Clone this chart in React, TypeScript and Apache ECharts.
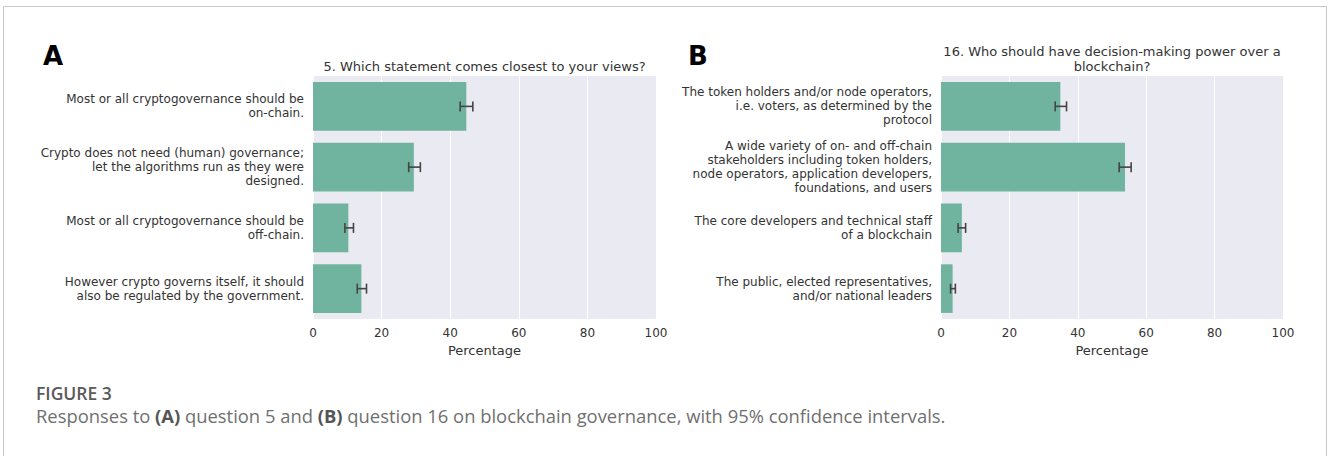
import React, { useEffect, useRef } from "react";
import * as echarts from "echarts";

const categoriesA = [
  "Most or all cryptogovernance should be\non-chain.",
  "Crypto does not need (human) governance;\nlet the algorithms run as they were\ndesigned.",
  "Most or all cryptogovernance should be\noff-chain.",
  "However crypto governs itself, it should\nalso be regulated by the government.",
];
const valuesA = [44.7, 29.4, 10.3, 14.1];
const ciLowA = [42.9, 27.9, 9.3, 12.9];
const ciHighA = [46.6, 31.3, 11.8, 15.6];

const categoriesB = [
  "The token holders and/or node operators,\ni.e. voters, as determined by the\nprotocol",
  "A wide variety of on- and off-chain\nstakeholders including token holders,\nnode operators, application developers,\nfoundations, and users",
  "The core developers and technical staff\nof a blockchain",
  "The public, elected representatives,\nand/or national leaders",
];
const valuesB = [34.9, 53.8, 6.1, 3.4];
const ciLowB = [33.4, 52.1, 5.0, 2.8];
const ciHighB = [36.7, 55.6, 7.2, 4.2];

const titleA = "5. Which statement comes closest to your views?";
const titleB = "16. Who should have decision-making power over a\nblockchain?";
const axisName = "Percentage";

const FONT = "DejaVu Sans";
const TXT = "#333333";
const BAR = "#70b49f";

export default function App() {
  const ref = useRef<HTMLDivElement>(null);
  useEffect(() => {
    if (!ref.current) return;
    const chart = echarts.init(ref.current, null, { renderer: "svg" });

    const gridsPos = [
      { left: 313, top: 76, width: 343, height: 243 },
      { left: 941, top: 76, width: 342, height: 243 },
    ];

    const xAxis = [0, 1].map((i) => ({
      type: "value",
      gridIndex: i,
      min: 0,
      max: 100,
      interval: 20,
      axisLine: { show: false },
      axisTick: { show: false },
      splitLine: { show: true, lineStyle: { color: "#ffffff", width: 1 } },
      axisLabel: { color: TXT, fontSize: 12, fontFamily: FONT, margin: 8 },
      name: axisName,
      nameLocation: "middle",
      nameGap: 23,
      nameTextStyle: { color: TXT, fontSize: 13, fontFamily: FONT, verticalAlign: "top" },
    }));

    const yAxis = [categoriesA, categoriesB].map((cats, i) => ({
      type: "category",
      gridIndex: i,
      data: cats,
      inverse: true,
      axisLine: { show: false },
      axisTick: { show: false },
      splitLine: { show: false },
      axisLabel: {
        color: TXT,
        fontSize: 12,
        fontFamily: FONT,
        margin: 9,
        lineHeight: 14,
        align: "right",
      },
    }));

    const errRender = (params: any, api: any) => {
      const c = api.value(0);
      const lo = api.value(1);
      const hi = api.value(2);
      const p1 = api.coord([lo, c]);
      const p2 = api.coord([hi, c]);
      const h = 5;
      const style = { stroke: "#444444", lineWidth: 1.6 };
      return {
        type: "group",
        children: [
          { type: "line", shape: { x1: p1[0], y1: p1[1], x2: p2[0], y2: p2[1] }, style },
          { type: "line", shape: { x1: p1[0], y1: p1[1] - h, x2: p1[0], y2: p1[1] + h }, style },
          { type: "line", shape: { x1: p2[0], y1: p2[1] - h, x2: p2[0], y2: p2[1] + h }, style },
        ],
      };
    };

    const option: any = {
      animation: false,
      grid: gridsPos.map((g) => ({
        ...g,
        show: true,
        backgroundColor: "#eaeaf2",
        borderWidth: 0,
        containLabel: false,
      })),
      xAxis,
      yAxis,
      series: [
        {
          type: "bar",
          xAxisIndex: 0,
          yAxisIndex: 0,
          data: valuesA,
          barCategoryGap: "20%",
          itemStyle: { color: BAR },
        },
        {
          type: "bar",
          xAxisIndex: 1,
          yAxisIndex: 1,
          data: valuesB,
          barCategoryGap: "20%",
          itemStyle: { color: BAR },
        },
        {
          type: "custom",
          xAxisIndex: 0,
          yAxisIndex: 0,
          renderItem: errRender,
          encode: { x: [1, 2], y: 0 },
          data: valuesA.map((_, i) => [i, ciLowA[i], ciHighA[i]]),
          z: 5,
        },
        {
          type: "custom",
          xAxisIndex: 1,
          yAxisIndex: 1,
          renderItem: errRender,
          encode: { x: [1, 2], y: 0 },
          data: valuesB.map((_, i) => [i, ciLowB[i], ciHighB[i]]),
          z: 5,
        },
      ],
      graphic: [
        {
          type: "rect",
          shape: { x: 3.5, y: 6.5, width: 1323, height: 480 },
          style: { fill: "none", stroke: "#c8c8c8", lineWidth: 1 },
          silent: true,
        },
        {
          type: "text",
          x: 43,
          y: 56,
          style: {
            text: "A",
            font: `bold 26px "${FONT}"`,
            fill: "#000",
            textVerticalAlign: "middle",
          },
        },
        {
          type: "text",
          x: 688,
          y: 56,
          style: {
            text: "B",
            font: `bold 26px "${FONT}"`,
            fill: "#000",
            textVerticalAlign: "middle",
          },
        },
        {
          type: "text",
          x: 484.5,
          y: 66,
          style: {
            text: titleA,
            font: `13px "${FONT}"`,
            fill: TXT,
            textAlign: "center",
            textVerticalAlign: "middle",
          },
        },
        {
          type: "text",
          x: 1112,
          y: 58.5,
          style: {
            text: titleB,
            font: `13px "${FONT}"`,
            lineHeight: 15,
            fill: TXT,
            textAlign: "center",
            textVerticalAlign: "middle",
          },
        },
        {
          type: "text",
          x: 36,
          y: 393,
          style: {
            text: "FIGURE 3",
            font: `600 17.5px "Open Sans"`,
            fill: "#5a5a5a",
            textVerticalAlign: "middle",
          },
        },
        {
          type: "text",
          x: 36,
          y: 415,
          style: {
            text: "Responses to {b|(A)} question 5 and {b|(B)} question 16 on blockchain governance, with 95% confidence intervals.",
            font: `18.4px "Open Sans"`,
            fill: "#707070",
            textVerticalAlign: "middle",
            rich: {
              b: { fontFamily: "Open Sans", fontSize: 18.4, fontWeight: "bold", fill: "#555555" },
            },
          },
        },
      ],
    };

    chart.setOption(option);
    return () => chart.dispose();
  }, []);

  return (
    <div
      ref={ref}
      style={{ position: "absolute", left: 0, top: 0, width: 1328, height: 456, background: "#fff" }}
    />
  );
}
